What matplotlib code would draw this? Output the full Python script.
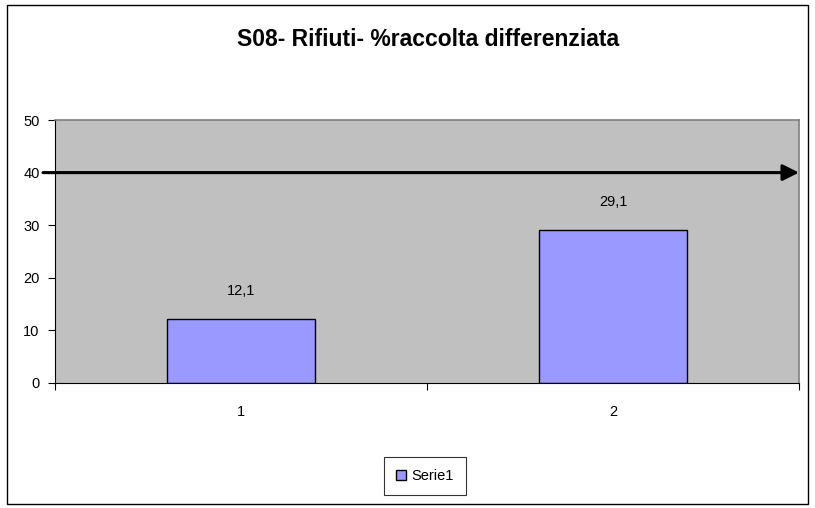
import matplotlib

matplotlib.use("Agg")
import matplotlib.pyplot as plt
from matplotlib.patches import Rectangle

plt.rcParams["font.family"] = ["Liberation Sans", "DejaVu Sans"]

categories = [1, 2]
values = [12.1, 29.1]
value_labels = ["12,1", "29,1"]
yticks = [0, 10, 20, 30, 40, 50]
target = 40
series_name = "Serie1"
title = "S08- Rifiuti- %raccolta differenziata"

W, H = 815, 508
fig = plt.figure(figsize=(W / 100, H / 100), dpi=100)
fig.patch.set_facecolor("white")

# outer chart border
fig.add_artist(Rectangle((7 / W, 4 / H), 801 / W, 499 / H, transform=fig.transFigure,
                         fill=False, edgecolor="black", linewidth=1.0))

ax = fig.add_axes([55 / W, 1 - 383 / H, 744 / W, 263 / H])
ax.set_facecolor("#C0C0C0")
ax.bar(categories, values, width=0.4, color="#9999FF", edgecolor="black", linewidth=1.0,
       label=series_name, zorder=2)
for x, v, lab in zip(categories, values, value_labels):
    ax.text(x, v + 4, lab, ha="center", va="bottom", fontsize=10.5)

ax.set_xlim(0.5, 2.5)
ax.set_ylim(0, 50)
ax.set_yticks(yticks)
ax.set_xticks(categories)
ax.set_xticks([0.5, 1.5, 2.5], minor=True)
ax.tick_params(axis="x", which="major", length=0, pad=16, labelsize=10.5)
ax.tick_params(axis="x", which="minor", length=5, direction="out", width=0.8)
ax.tick_params(axis="y", length=5, direction="out", width=0.8, labelsize=10.5, pad=6)
for s in ["top", "right"]:
    ax.spines[s].set_color("#808080")
    ax.spines[s].set_linewidth(1.2)
for s in ["left", "bottom"]:
    ax.spines[s].set_color("black")
    ax.spines[s].set_linewidth(0.8)

# target line with arrow
ax.annotate("", xy=(2.5, target), xycoords="data",
            xytext=(43 / W, target), textcoords=("figure fraction", "data"),
            arrowprops=dict(arrowstyle="-|>,head_length=0.7,head_width=0.35", color="black", lw=2.2,
                            mutation_scale=14, shrinkA=0, shrinkB=0),
            annotation_clip=False, zorder=5)

fig.text(428 / W, 1 - 40 / H, title, ha="center", va="center", fontsize=16.5, fontweight="bold")

leg = fig.legend(loc="center", bbox_to_anchor=(425 / W, 1 - 476 / H), frameon=True,
                 fancybox=False, edgecolor="black", fontsize=10.5, handlelength=0.7,
                 handleheight=0.7, handletextpad=0.4, borderpad=0.8)
leg.get_frame().set_linewidth(0.8)

fig.savefig("out.png", dpi=100)
